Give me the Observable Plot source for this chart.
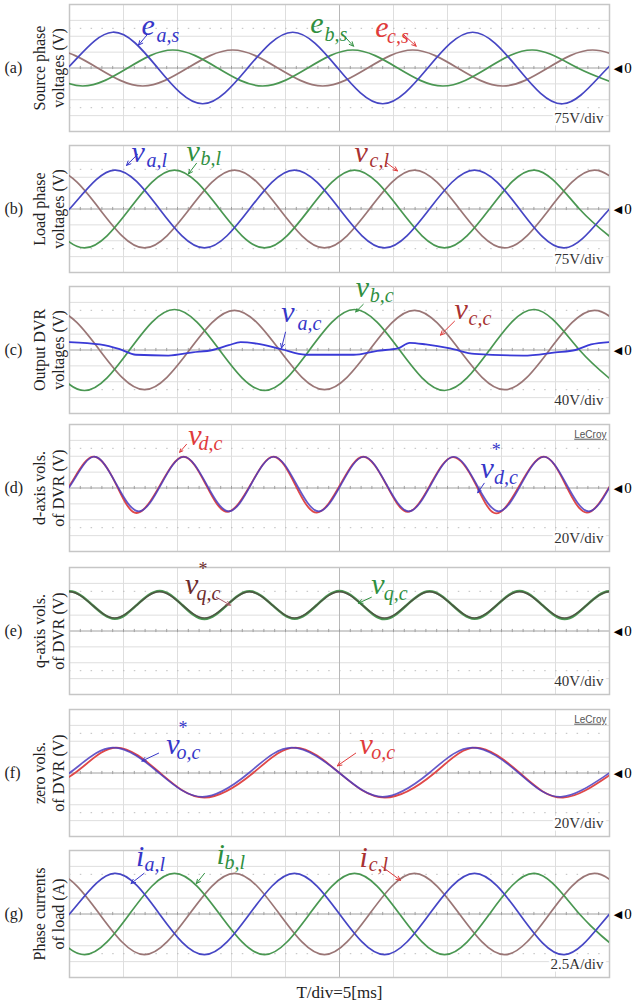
<!DOCTYPE html>
<html><head><meta charset="utf-8">
<script src="https://cdn.jsdelivr.net/npm/d3@7"></script>
<script src="https://cdn.jsdelivr.net/npm/@observablehq/plot@0.6"></script>
<style>
body{margin:0;background:#fff;}
#root{position:relative;width:632px;height:1003px;overflow:hidden;background:#fff;}
#root svg{position:absolute;left:0;}
</style></head><body><div id="root"></div>
<script>
// ---------- data (time in ms, 5 ms/div; values in V or A) ----------
const panelLetters = ["(a)","(b)","(c)","(d)","(e)","(f)","(g)"];
const panelTitles = [
  ["Source phase","voltages (V)"],
  ["Load phase","voltages (V)"],
  ["Output DVR","voltages (V)"],
  ["d-axis vols.","of DVR (V)"],
  ["q-axis vols.","of DVR (V)"],
  ["zero vols.","of DVR (V)"],
  ["Phase currents","of load (A)"]
];
const panelScales = ["75V/div","75V/div","40V/div","20V/div","40V/div","20V/div","2.5A/div"];
const unitsPerDiv = [75,75,40,20,40,20,2.5];
const timeLabel = "T/div=5[ms]";

// (a) source phase voltages
const ea_s = [[-4.33,-169],[-0.17,0],[4.0,169],[8.17,0],[12.33,-169],[16.5,0],[20.67,169],[24.83,0],[29.0,-169],[33.17,0],[37.33,169],[41.5,0],[45.67,-169],[49.83,0],[54.0,169]];
const eb_s = [[-2.94,0],[1.22,-85],[5.39,0],[9.56,85],[13.72,0],[17.89,-85],[22.06,0],[26.22,85],[30.39,0],[34.56,-85],[38.72,0],[42.89,85],[47.06,0],[51.22,-85]];
const ec_s = [[-5.72,0],[-1.56,85],[2.61,0],[6.78,-85],[10.94,0],[15.11,85],[19.28,0],[23.44,-85],[27.61,0],[31.78,85],[35.94,0],[40.11,-85],[44.28,0],[48.44,85],[52.61,0]];
// (b) load phase voltages
const va_l = [[-4.17,-184],[0,0],[4.17,184],[8.33,0],[12.5,-184],[16.67,0],[20.83,184],[25,0],[29.17,-184],[33.33,0],[37.5,184],[41.67,0],[45.83,-184],[50,0],[54.17,184]];
const vb_l = [[-2.78,0],[1.39,-184],[5.56,0],[9.72,184],[13.89,0],[18.06,-184],[22.22,0],[26.39,184],[30.56,0],[34.72,-184],[38.89,0],[43.06,184],[47.22,0],[51.39,-184]];
const vc_l = [[-5.56,0],[-1.39,184],[2.78,0],[6.94,-184],[11.11,0],[15.28,184],[19.44,0],[23.61,-184],[27.78,0],[31.94,184],[36.11,0],[40.28,-184],[44.44,0],[48.61,184],[52.78,0]];
// (c) output DVR voltages
const va_c = [[0,20],[2.8,14],[4.65,2],[6.15,-12],[9.15,-14],[11.4,-6],[13.25,0],[14.75,12],[15.85,20],[17.35,16],[19.6,2],[21.85,-12],[26.3,-12],[28.5,-2],[30.4,4],[31.5,18],[33.0,14],[35.25,4],[37.5,-10],[42.0,-14],[45.0,-6],[46.85,0],[48.3,14],[50,20]];
const vb_c = [[-2.78,0],[1.39,-102],[5.56,0],[9.72,102],[13.89,0],[18.06,-102],[22.22,0],[26.39,102],[30.56,0],[34.72,-102],[38.89,0],[43.06,102],[47.22,0],[51.39,-102]];
const vc_c = [[-5.56,0],[-1.39,100],[2.78,0],[6.94,-100],[11.11,0],[15.28,100],[19.44,0],[23.61,-100],[27.78,0],[31.94,100],[36.11,0],[40.28,-100],[44.44,0],[48.61,100],[52.78,0]];
// (d) d-axis voltages: reference (blue) and measured (red)
const vd_ref = [[-1.92,-29.4],[0.17,5],[2.25,39.4],[4.33,5],[6.42,-29.4],[8.5,5],[10.58,39.4],[12.67,5],[14.75,-29.4],[16.83,5],[18.92,39.4],[21.0,5],[23.08,-29.4],[25.17,5],[27.25,39.4],[29.33,5],[31.42,-29.4],[33.5,5],[35.58,39.4],[37.67,5],[39.75,-29.4],[41.83,5],[43.92,39.4],[46.0,5],[48.08,-29.4],[50.17,5]];
const vd = [[-1.92,-31],[0.1,5],[2.2,39.4],[4.3,5],[6.2,-31.5],[8.4,4],[10.55,39.4],[12.6,5],[14.6,-30],[16.8,5],[18.9,39.4],[20.9,4],[22.9,-31],[25.1,5],[27.2,39.4],[29.3,5],[31.3,-30],[33.4,4],[35.5,39],[37.6,5],[39.5,-32],[41.7,4],[43.9,39.4],[45.9,5],[47.9,-31],[50.1,4]];
// (e) q-axis voltages: reference (dark) and measured (green)
const vq_ref = [[-2.08,66],[0,99],[2.08,66],[4.17,33],[6.25,66],[8.33,99],[10.42,66],[12.5,33],[14.58,66],[16.67,99],[18.75,66],[20.83,33],[22.92,66],[25,99],[27.08,66],[29.17,33],[31.25,66],[33.33,99],[35.42,66],[37.5,33],[39.58,66],[41.67,99],[43.75,66],[45.83,33],[47.92,66],[50,99],[52.08,66]];
const vq = [[-2.08,66],[0,100],[2.1,66],[4.2,31],[6.25,66],[8.35,101],[10.42,66],[12.5,30],[14.6,66],[16.67,100],[18.75,66],[20.85,31],[22.92,66],[25,101],[27.1,66],[29.17,30],[31.25,66],[33.35,100],[35.42,66],[37.5,31],[39.6,66],[41.67,101],[43.75,66],[45.85,30],[47.92,66],[50,100],[52.08,66]];
// (f) zero-sequence voltages: reference (blue) and measured (red)
const vo_ref = [[-4.2,-30],[0,0],[4.0,32],[8.3,0],[12.3,-30],[16.6,0],[20.6,32],[25.0,0],[29.0,-30],[33.3,0],[37.3,32],[41.6,0],[45.5,-30],[50,0],[54,32]];
const vo = [[-4.0,-31],[0.5,0],[4.3,32],[8.4,0],[12.5,-31],[17.0,0],[20.9,32],[25.0,0],[29.2,-31],[33.8,0],[37.6,32],[41.7,0],[45.7,-31],[50.3,0],[54.2,32]];
// (g) load phase currents
const ia_l = [[-4.17,-6.4],[0,0],[4.17,6.4],[8.33,0],[12.5,-6.4],[16.67,0],[20.83,6.4],[25,0],[29.17,-6.4],[33.33,0],[37.5,6.4],[41.67,0],[45.83,-6.4],[50,0],[54.17,6.4]];
const ib_l = [[-2.78,0],[1.39,-6.4],[5.56,0],[9.72,6.4],[13.89,0],[18.06,-6.4],[22.22,0],[26.39,6.4],[30.56,0],[34.72,-6.4],[38.89,0],[43.06,6.4],[47.22,0],[51.39,-6.4]];
const ic_l = [[-5.56,0],[-1.39,6.4],[2.78,0],[6.94,-6.4],[11.11,0],[15.28,6.4],[19.44,0],[23.61,-6.4],[27.78,0],[31.94,6.4],[36.11,0],[40.28,-6.4],[44.44,0],[48.61,6.4],[52.78,0]];

// ---------- styles ----------
const SERIF = "'Liberation Serif','Times New Roman',serif";
const BLUE = "#4646c4", GREEN = "#4a9752", BROWN = "#9a7676", RED = "#e04848", DARK = "#4e463e";
const LBLUE = "#3636c8", LGREEN = "#2f8f3f", LRED = "#e03b3b", LDRED = "#a83232", LMAROON = "#6d2c2c", AMAUVE = "#b05a6a";

const root = document.getElementById("root");
const panelTops = [4,145,286,424,567,709,850];

function makePanel(i, traces, notes, arrows, opts = {}) {
  const u = unitsPerDiv[i];
  const mt = 16, mb = opts.mb || 6, boxH = 127;
  const minor = d3.range(0, 50.001, 1);
  const marks = [
    Plot.ruleY(d3.range(-4, 5), {y: d => d * u, stroke: "#dedede", strokeWidth: 1}),
    Plot.ruleX(d3.range(0, 51, 5), {x: d => d, stroke: "#dedede", strokeWidth: 1}),
    Plot.ruleY([-2.5, 2.5], {y: d => d * u, stroke: "#bdbdbd", strokeDasharray: "1.5,9.3"}),
    Plot.ruleX([25], {x: d => d, stroke: "#b8b8b8"}),
    Plot.ruleY([0], {y: d => d, stroke: "#b0b0b0"}),
    Plot.ruleX(minor, {x: d => d, y1: () => -0.1 * u, y2: () => 0.1 * u, stroke: "#a0a0a0"}),
    Plot.frame({stroke: "#c6c6c6", strokeWidth: 1.5}),
    ...traces.map(tr => Plot.line(tr.data, {x: d => d[0], y: d => d[1], stroke: tr.color,
      strokeWidth: tr.w || 1.7, strokeOpacity: tr.op || 1, curve: tr.curve || "natural", clip: true})),
    ...arrows.map(a => Plot.arrow([a], {x1: "t1", y1: "v1", x2: "t2", y2: "v2", stroke: a.c,
      strokeWidth: 1, headLength: 7, headAngle: 50})),
    ...notes.map(n => Plot.text([n], {x: "t", y: "v", text: "s", fill: n.c, fontSize: n.fs,
      fontStyle: n.it === false ? "normal" : "italic", fontFamily: SERIF, textAnchor: "start"})),
    // left title, letter, scale, zero marker
    Plot.text([panelTitles[i].join("\n")], {frameAnchor: "left", y: () => 0, text: d => d, dx: -21.5,
      rotate: -90, textAnchor: "middle", lineAnchor: "middle", fontSize: 16, lineHeight: 1.2,
      fontFamily: SERIF, fill: "#222"}),
    Plot.text([panelLetters[i]], {frameAnchor: "left", y: () => 0, text: d => d, dx: -65,
      textAnchor: "start", fontSize: 16, fontFamily: SERIF, fill: "#222"}),
    Plot.text([panelScales[i]], {frameAnchor: "bottom-right", text: d => d, dx: -6, dy: -13,
      lineAnchor: "middle", textAnchor: "end", fontSize: 15, fontFamily: SERIF, fill: "#333",
      stroke: "white", strokeWidth: 5, paintOrder: "stroke"}),
    Plot.text(["◀"], {frameAnchor: "right", y: () => 0, text: d => d, dx: 8.5, textAnchor: "middle",
      fontSize: 11, fontFamily: "DejaVu Sans", fill: "#000"}),
    Plot.text(["0"], {frameAnchor: "right", y: () => 0, text: d => d, dx: 18.5, textAnchor: "middle",
      fontSize: 15, fontFamily: SERIF, fill: "#000"})
  ];
  if (opts.lecroy) marks.push(Plot.text(["LeCroy"], {frameAnchor: "top-right", text: d => d, dx: -3, dy: 10,
      lineAnchor: "middle", textAnchor: "end", fontSize: 10, fontFamily: "'Liberation Sans Narrow','Liberation Sans',sans-serif", fill: "#555"}));
  if (opts.timeLabel) marks.push(Plot.text([timeLabel], {frameAnchor: "bottom", text: d => d, dy: 15,
      textAnchor: "middle", lineAnchor: "middle", fontSize: 17, fontFamily: SERIF, fill: "#222"}));
  const svg = Plot.plot({
    width: 632, height: boxH + mt + mb,
    marginLeft: 69, marginRight: 23, marginTop: mt, marginBottom: mb,
    x: {domain: [0, 50], axis: null}, y: {domain: [-4 * u, 4 * u], axis: null},
    style: {background: "transparent", overflow: "visible"},
    marks
  });
  d3.select(svg).selectAll("text").filter(function() { return this.textContent === "LeCroy"; })
    .attr("text-decoration", "underline");
  svg.style.top = (panelTops[i] - mt) + "px";
  root.appendChild(svg);
}

// (a)
makePanel(0,
  [{data: ec_s, color: BROWN}, {data: eb_s, color: GREEN}, {data: ea_s, color: BLUE}],
  [{t: 6.67, v: 202, s: "e", c: LBLUE, fs: 30}, {t: 8.06, v: 155, s: "a,s", c: LBLUE, fs: 20},
   {t: 22.3, v: 211, s: "e", c: LGREEN, fs: 30}, {t: 23.6, v: 159, s: "b,s", c: LGREEN, fs: 20},
   {t: 28.3, v: 192, s: "e", c: LRED, fs: 30}, {t: 29.4, v: 150, s: "c,s", c: LRED, fs: 20}],
  [{t1: 7.22, v1: 159, t2: 6.39, v2: 108, c: LBLUE}, {t1: 25.3, v1: 159, t2: 26.3, v2: 103, c: LGREEN},
   {t1: 30.9, v1: 159, t2: 32.1, v2: 103, c: LRED}]);
// (b)
makePanel(1,
  [{data: vc_l, color: BROWN}, {data: vb_l, color: GREEN}, {data: va_l, color: BLUE}],
  [{t: 5.74, v: 267, s: "v", c: LBLUE, fs: 30}, {t: 7.13, v: 230, s: "a,l", c: LBLUE, fs: 20},
   {t: 10.83, v: 274, s: "v", c: LGREEN, fs: 30}, {t: 12.13, v: 239, s: "b,l", c: LGREEN, fs: 20},
   {t: 26.39, v: 267, s: "v", c: LDRED, fs: 30}, {t: 27.78, v: 230, s: "c,l", c: LDRED, fs: 20}],
  [{t1: 6.3, v1: 258, t2: 5.28, v2: 206, c: LBLUE}, {t1: 11.76, v1: 216, t2: 11.02, v2: 166, c: LGREEN},
   {t1: 29.26, v1: 222, t2: 30.37, v2: 180, c: LRED}]);
// (c)
makePanel(2,
  [{data: vc_c, color: BROWN}, {data: vb_c, color: GREEN}, {data: va_c, color: "#3a3ad6", w: 1.8, curve: "monotone-x"}],
  [{t: 19.6, v: 95, s: "v", c: LBLUE, fs: 30}, {t: 21.1, v: 67.5, s: "a,c", c: LBLUE, fs: 20},
   {t: 26.5, v: 157.5, s: "v", c: LGREEN, fs: 30}, {t: 27.8, v: 137.5, s: "b,c", c: LGREEN, fs: 20},
   {t: 35.65, v: 102.5, s: "v", c: LDRED, fs: 30}, {t: 36.95, v: 80, s: "c,c", c: LDRED, fs: 20}],
  [{t1: 20.0, v1: 45, t2: 19.63, v2: 5, c: LBLUE}, {t1: 27.2, v1: 115, t2: 26.5, v2: 96, c: LGREEN},
   {t1: 35.65, v1: 72.5, t2: 34.35, v2: 37.5, c: LRED}]);
// (d)
makePanel(3,
  [{data: vd, color: RED, w: 1.8}, {data: vd_ref, color: "#4a3cc0", w: 1.7, op: 0.85}],
  [{t: 11.0, v: 66, s: "v", c: LRED, fs: 30}, {t: 11.95, v: 56, s: "d,c", c: LRED, fs: 20},
   {t: 39.1, v: 47, s: "*", c: LBLUE, fs: 18, it: false},
   {t: 38.05, v: 25, s: "v", c: LBLUE, fs: 30}, {t: 39.3, v: 12.5, s: "d,c", c: LBLUE, fs: 20}],
  [{t1: 10.83, v1: 55, t2: 10.2, v2: 45, c: LRED}, {t1: 38.4, v1: 6, t2: 37.8, v2: -6, c: LBLUE}],
  {lecroy: true});
// (e)
makePanel(4,
  [{data: vq, color: GREEN, w: 2.5}, {data: vq_ref, color: DARK, w: 1.4, op: 0.85}],
  [{t: 11.95, v: 155, s: "*", c: LMAROON, fs: 18, it: false},
   {t: 10.7, v: 117.5, s: "v", c: LMAROON, fs: 30}, {t: 11.75, v: 95, s: "q,c", c: LMAROON, fs: 20},
   {t: 27.95, v: 117.5, s: "v", c: LGREEN, fs: 30}, {t: 29.1, v: 95, s: "q,c", c: LGREEN, fs: 20}],
  [{t1: 13.6, v1: 85, t2: 14.9, v2: 65, c: AMAUVE}, {t1: 27.95, v1: 85, t2: 26.75, v2: 70, c: LGREEN}]);
// (f)
makePanel(5,
  [{data: vo, color: RED, w: 1.8}, {data: vo_ref, color: "#4a3cc0", w: 1.7, op: 0.85}],
  [{t: 10.1, v: 56, s: "*", c: LBLUE, fs: 18, it: false},
   {t: 8.95, v: 36, s: "v", c: LBLUE, fs: 30}, {t: 9.9, v: 25.5, s: "o,c", c: LBLUE, fs: 20},
   {t: 26.85, v: 36, s: "v", c: LRED, fs: 30}, {t: 27.95, v: 25.5, s: "o,c", c: LRED, fs: 20}],
  [{t1: 8.25, v1: 25, t2: 6.7, v2: 15, c: LBLUE}, {t1: 26.5, v1: 25, t2: 24.8, v2: 9, c: LRED}],
  {lecroy: true});
// (g)
makePanel(6,
  [{data: ic_l, color: BROWN}, {data: ib_l, color: GREEN}, {data: ia_l, color: BLUE}],
  [{t: 6.16, v: 9.1, s: "i", c: LBLUE, fs: 30}, {t: 6.95, v: 7.8, s: "a,l", c: LBLUE, fs: 20},
   {t: 13.6, v: 9.4, s: "i", c: LGREEN, fs: 30}, {t: 14.35, v: 8.05, s: "b,l", c: LGREEN, fs: 20},
   {t: 26.85, v: 8.9, s: "i", c: LDRED, fs: 30}, {t: 27.7, v: 7.8, s: "c,l", c: LDRED, fs: 20}],
  [{t1: 6.9, v1: 6.4, t2: 5.7, v2: 4.8, c: LBLUE}, {t1: 12.5, v1: 6.4, t2: 11.75, v2: 4.8, c: LGREEN},
   {t1: 28.9, v1: 7.5, t2: 30.65, v2: 5.3, c: LRED}],
  {mb: 30, timeLabel: true});
</script></body></html>
